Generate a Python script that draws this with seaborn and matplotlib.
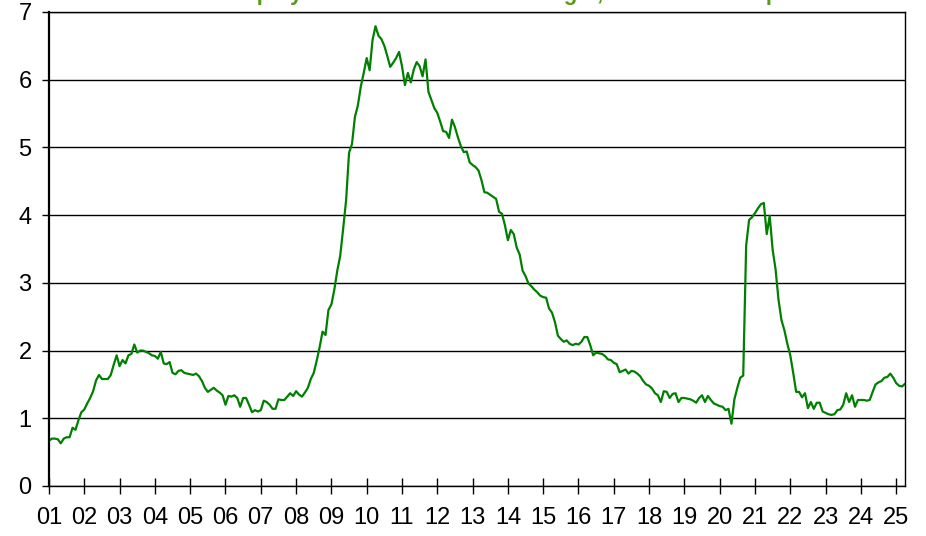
import numpy as np
import pandas as pd
import matplotlib
matplotlib.use("Agg")
import matplotlib.pyplot as plt
import seaborn as sns

# monthly values, millions, Jan 2001 .. Apr 2025
y2001 = [0.67, 0.70, 0.70, 0.69, 0.63, 0.70, 0.72, 0.72, 0.86, 0.83, 0.97, 1.09]
y2002 = [1.13, 1.22, 1.30, 1.40, 1.56, 1.64, 1.58, 1.58, 1.58, 1.64, 1.79, 1.93]
y2003 = [1.77, 1.86, 1.81, 1.93, 1.95, 2.09, 1.97, 2.00, 2.00, 1.98, 1.96, 1.93]
y2004 = [1.92, 1.88, 1.98, 1.81, 1.80, 1.83, 1.67, 1.65, 1.70, 1.71, 1.67, 1.66]
y2005 = [1.65, 1.64, 1.66, 1.62, 1.55, 1.45, 1.39, 1.42, 1.45, 1.41, 1.38, 1.34]
y2006 = [1.20, 1.33, 1.32, 1.34, 1.30, 1.17, 1.30, 1.30, 1.20, 1.09, 1.12, 1.10]
y2007 = [1.12, 1.26, 1.24, 1.20, 1.14, 1.14, 1.28, 1.27, 1.27, 1.32, 1.37, 1.33]
y2008 = [1.40, 1.35, 1.32, 1.38, 1.45, 1.58, 1.67, 1.85, 2.05, 2.28, 2.23, 2.60]
y2009 = [2.68, 2.90, 3.18, 3.40, 3.80, 4.22, 4.92, 5.05, 5.45, 5.62, 5.90, 6.10]
y2010 = [6.32, 6.14, 6.59, 6.79, 6.65, 6.60, 6.50, 6.35, 6.19, 6.25, 6.32, 6.41]
y2011 = [6.20, 5.92, 6.10, 5.96, 6.15, 6.26, 6.20, 6.05, 6.30, 5.82, 5.70, 5.58]
y2012 = [5.51, 5.38, 5.24, 5.23, 5.14, 5.41, 5.30, 5.15, 5.02, 4.93, 4.94, 4.78]
y2013 = [4.74, 4.71, 4.66, 4.52, 4.34, 4.33, 4.30, 4.27, 4.24, 4.05, 4.02, 3.85]
y2014 = [3.63, 3.78, 3.72, 3.52, 3.42, 3.18, 3.10, 2.99, 2.95, 2.90, 2.86, 2.81]
y2015 = [2.79, 2.78, 2.62, 2.56, 2.42, 2.22, 2.17, 2.13, 2.15, 2.10, 2.08, 2.10]
y2016 = [2.09, 2.13, 2.20, 2.20, 2.08, 1.93, 1.97, 1.96, 1.95, 1.92, 1.87, 1.86]
y2017 = [1.82, 1.80, 1.68, 1.70, 1.72, 1.66, 1.70, 1.69, 1.66, 1.62, 1.55, 1.50]
y2018 = [1.48, 1.44, 1.37, 1.34, 1.24, 1.40, 1.39, 1.30, 1.36, 1.37, 1.24, 1.30]
y2019 = [1.30, 1.29, 1.28, 1.26, 1.23, 1.30, 1.34, 1.24, 1.33, 1.27, 1.22, 1.20]
y2020 = [1.18, 1.17, 1.12, 1.14, 0.92, 1.28, 1.45, 1.60, 1.63, 3.55, 3.93, 3.97]
y2021 = [4.03, 4.10, 4.16, 4.18, 3.72, 3.99, 3.49, 3.20, 2.75, 2.45, 2.30, 2.10]
y2022 = [1.93, 1.67, 1.39, 1.39, 1.31, 1.37, 1.15, 1.24, 1.14, 1.23, 1.23, 1.10]
y2023 = [1.08, 1.06, 1.05, 1.06, 1.12, 1.13, 1.20, 1.37, 1.24, 1.34, 1.17, 1.27]
y2024 = [1.27, 1.27, 1.26, 1.27, 1.39, 1.50, 1.53, 1.55, 1.60, 1.61, 1.66, 1.60]
y2025 = [1.52, 1.48, 1.47, 1.51]

year_labels = ["%02d" % i for i in range(1, 26)]
title = "Number Unemployed for 27 Weeks and Longer, Millions of People"

values = (y2001 + y2002 + y2003 + y2004 + y2005 + y2006 + y2007 + y2008 + y2009
          + y2010 + y2011 + y2012 + y2013 + y2014 + y2015 + y2016 + y2017 + y2018
          + y2019 + y2020 + y2021 + y2022 + y2023 + y2024 + y2025)
dates = pd.date_range("2001-01-01", periods=len(values), freq="MS")
df = pd.DataFrame({"t": dates.year + (dates.month - 1) / 12.0, "v": values})

sns.set_style("white")
plt.rcParams["font.family"] = ["Liberation Sans", "DejaVu Sans"]

fig = plt.figure(figsize=(9.26, 5.36), dpi=100)
ax = fig.add_axes([49 / 926, 50 / 536, 856 / 926, 474 / 536])

sns.lineplot(data=df, x="t", y="v", color="#008000", linewidth=1.6, ax=ax)

ax.set_xlim(2001, df["t"].iloc[-1])
ax.set_ylim(0, 7)
ax.set_yticks(range(0, 8))
ax.set_xticks(range(2001, 2026))
ax.set_xticklabels(year_labels)
ax.grid(axis="y", color="black", linewidth=1.0)
ax.set_axisbelow(True)
ax.set_xlabel("")
ax.set_ylabel("")
for s in ax.spines.values():
    s.set_color("black")
    s.set_linewidth(1.0)
ax.spines["left"].set_linewidth(1.6)

ax.tick_params(axis="y", direction="out", length=5, width=1, pad=7.5,
               labelsize=17, colors="black", left=True)
ax.tick_params(axis="x", direction="inout", length=11, width=1, pad=9.5,
               labelsize=17, colors="black", bottom=True)

# title sits mostly above the canvas, only its descenders show (as in the source)
fig.text(0.487, 1.0, title, ha="center", va="baseline", color="#5a9a1a",
         fontsize=16, fontweight="bold")

fig.savefig("out.png", dpi=100)
